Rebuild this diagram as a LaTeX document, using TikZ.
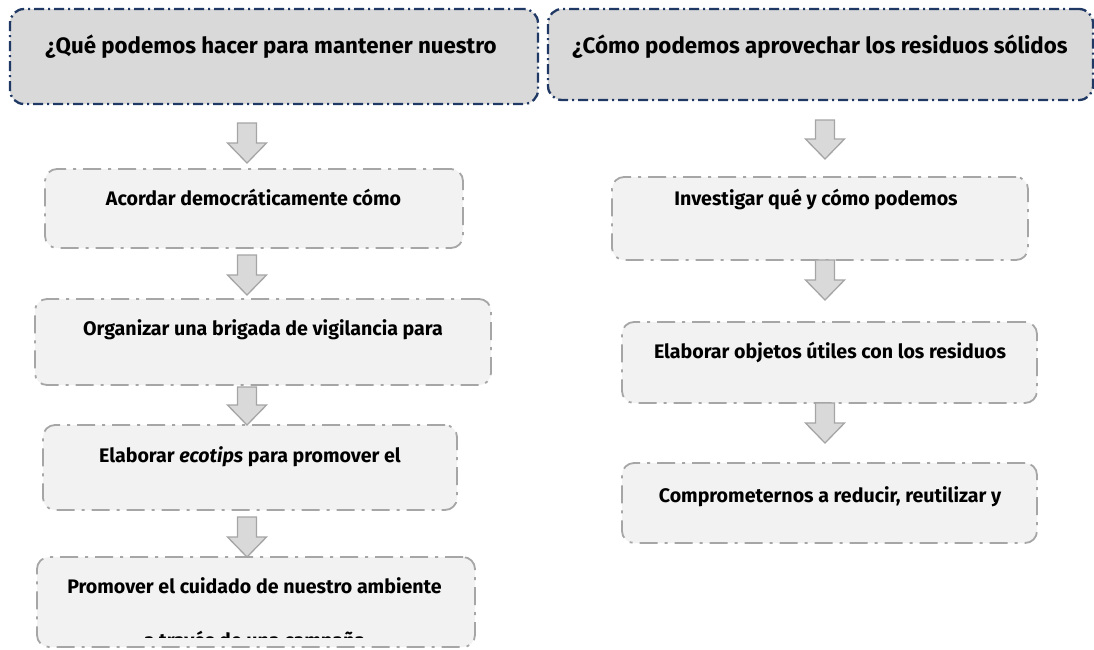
\documentclass[tikz,border=0pt]{standalone}
\usepackage{fontspec}
\setmainfont{Fira Sans}
\usetikzlibrary{calc}
\definecolor{hdrfill}{HTML}{D9D9D9}
\definecolor{hdrline}{HTML}{1F3864}
\definecolor{boxfill}{HTML}{F2F2F2}
\definecolor{boxline}{HTML}{A6A6A6}
\definecolor{arrfill}{HTML}{D9D9D9}
\definecolor{arrline}{HTML}{A5A5A5}
\tikzset{
  hdrbox/.style={draw=hdrline, fill=hdrfill, line width=2.3pt, rounded corners=14pt,
    dash pattern=on 10pt off 4pt on 2pt off 4pt, inner sep=0pt, outer sep=0pt},
  stepbox/.style={draw=boxline, fill=boxfill, line width=1.8pt, rounded corners=12pt,
    dash pattern=on 18pt off 7pt on 3pt off 7pt, inner sep=0pt, outer sep=0pt},
  hdrtext/.style={anchor=base, inner sep=0pt, font=\fontsize{22.3}{26}\selectfont\bfseries},
  boxtext/.style={anchor=base, inner sep=0pt, font=\fontsize{19.6}{23}\selectfont\bfseries},
  flowarr/.style={draw=arrline, fill=arrfill, line width=1.3pt, line join=miter}
}
\newcommand\flowarrow[5]{%
  \draw[flowarr] let \p1=(#2.south), \p2=(#4.north) in
    ({#1pt-9.5pt},{\y1-#3pt}) -- ({#1pt+9.5pt},{\y1-#3pt})
    -- ({#1pt+9.5pt},{\y2+#5pt+20pt}) -- ({#1pt+19.5pt},{\y2+#5pt+20pt})
    -- ({#1pt},{\y2+#5pt}) -- ({#1pt-19.5pt},{\y2+#5pt+20pt})
    -- ({#1pt-9.5pt},{\y2+#5pt+20pt}) -- cycle;}
\begin{document}
\begin{tikzpicture}[x=1pt,y=-1pt]
\useasboundingbox (0,0) rectangle (1094,649);
% header boxes
\node[hdrbox, minimum width=528pt, minimum height=95pt] (hl) at (274,56.5) {};
\node[hdrbox, minimum width=545pt, minimum height=91pt] (hr) at (820.5,54.5) {};
\node[hdrtext] (hlt) at (271,53) {¿Qué podemos hacer para mantener nuestro};
\node[hdrtext] (hrt) at (820,53) {¿Cómo podemos aprovechar los residuos sólidos};
% left column
\node[stepbox, minimum width=418pt, minimum height=79pt] (b1) at (254,208.5) {};
\node[stepbox, minimum width=456pt, minimum height=86pt] (b2) at (263,342) {};
\node[stepbox, minimum width=414pt, minimum height=85pt] (b3) at (250,467.5) {};
\node[stepbox, minimum width=438pt, minimum height=90pt] (b4) at (256,602) {};
\node[boxtext] (b1t) at (253.5,205) {Acordar democráticamente cómo};
\node[boxtext] (b2t) at (263,335) {Organizar una brigada de vigilancia para};
\node[boxtext] (b3t) at (250,462) {Elaborar \textit{ecotips} para promover el};
\node[boxtext] (b4t) at (254.5,593) {Promover el cuidado de nuestro ambiente};
\begin{scope}
  \clip (37,557) rectangle (475,637);
  \node[boxtext] (b4u) at (254.5,647) {a través de una campaña};
\end{scope}
% right column
\node[stepbox, minimum width=416pt, minimum height=83pt] (r1) at (820,218.5) {};
\node[stepbox, minimum width=415pt, minimum height=81pt] (r2) at (829.5,362.5) {};
\node[stepbox, minimum width=415pt, minimum height=80pt] (r3) at (829.5,503) {};
\node[boxtext] (r1t) at (816,205) {Investigar qué y cómo podemos};
\node[boxtext] (r2t) at (830,358) {Elaborar objetos útiles con los residuos};
\node[boxtext] (r3t) at (830,502) {Comprometernos a reducir, reutilizar y};
% arrows
\flowarrow{247}{hl}{19}{b1}{6}
\flowarrow{247}{b1}{7}{b2}{4}
\flowarrow{247}{b2}{2}{b3}{0}
\flowarrow{247}{b3}{7}{b4}{0}
\flowarrow{825}{hr}{20}{r1}{18}
\flowarrow{825}{r1}{0}{r2}{22}
\flowarrow{825}{r2}{0}{r3}{20}
\end{tikzpicture}
\end{document}
